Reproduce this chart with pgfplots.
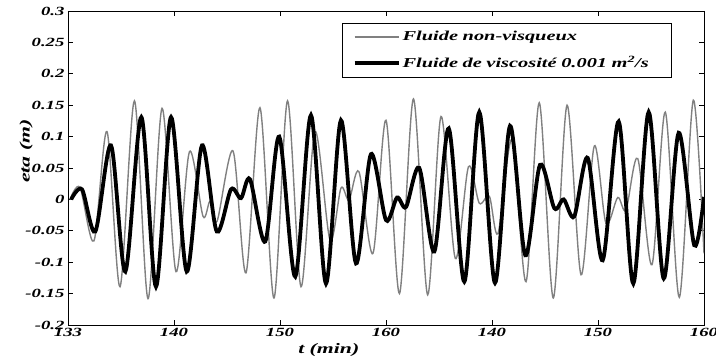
\documentclass[border=0pt]{standalone}
\usepackage{fontspec}
\setmainfont{Liberation Serif}[FakeStretch=1.5]
\usepackage{pgfplots}
\pgfplotsset{compat=1.18}
\definecolor{lgray}{RGB}{128,128,128}
\begin{document}
\begin{tikzpicture}
\begin{axis}[
  width=636pt, height=314pt, scale only axis,
  xmin=0, xmax=60, ymin=-0.2, ymax=0.3,
  xtick={0,10,20,30,40,50,60},
  xticklabels={133,140,150,160,140,150,160},
  ytick={-0.2,-0.15,-0.1,-0.05,0,0.05,0.1,0.15,0.2,0.25,0.3},
  yticklabels={-0.2,-0.15,-0.1,-0.05,0,0.05,0.1,0.15,0.2,0.25,0.3},
  tick align=inside, major tick length=5pt,
  tick style={black, line width=0.7pt},
  axis line style={line width=0.9pt},
  ticklabel style={font=\fontsize{12.5}{14}\selectfont\bfseries\itshape},
  xlabel={t (min)}, ylabel={eta (m)},
  every axis x label/.style={at={(axis description cs:0.41,0)}, yshift=-25pt, anchor=center,
    font=\fontsize{14.5}{16}\selectfont\bfseries\itshape},
  every axis y label/.style={at={(axis description cs:-0.066,0.554)}, rotate=90, anchor=center,
    font=\fontsize{14.5}{16}\selectfont\bfseries\itshape},
  legend style={at={(0.95,0.962)}, anchor=north east, draw=black, line width=1.2pt,
    inner xsep=10pt, inner ysep=6pt, row sep=10pt, column sep=0pt,
    nodes={text width=257pt, align=left, inner xsep=2pt},
    font=\fontsize{13.6}{15}\selectfont\bfseries\itshape},
  legend cell align=left,
  legend image code/.code={\draw[#1] (0pt,0pt) -- (44pt,0pt);},
]
\addplot[smooth, lgray, line width=1.4pt] coordinates {
(0.19,0) (1.13,0.019) (2.45,-0.066) (3.68,0.108) (4.91,-0.139) (6.27,0.157) (7.55,-0.158) (8.87,0.145) (10.19,-0.115) (11.46,0.076) (12.74,-0.027) (13.40,-0.003) (14.06,-0.035) (15.57,0.077) (16.79,-0.117) (18.11,0.146) (19.43,-0.157) (20.71,0.157) (21.98,-0.139) (23.30,0.108) (24.72,-0.065) (25.75,0.018) (26.51,-0.001) (27.45,0.044) (28.77,-0.086) (30.00,0.126) (31.27,-0.150) (32.59,0.160) (33.93,-0.152) (35.19,0.132) (36.54,-0.094) (37.78,0.052) (38.80,-0.006) (39.75,0.005) (40.57,-0.054) (41.89,0.095) (43.21,-0.131) (44.46,0.154) (45.78,-0.157) (47.08,0.150) (48.40,-0.120) (49.65,0.085) (50.75,-0.038) (51.86,0.003) (52.64,-0.017) (53.75,0.065) (55.09,-0.104) (56.35,0.139) (57.67,-0.156) (58.99,0.158) (60.00,-0.086)
};
\addlegendentry{Fluide non-visqueux}
\addplot[smooth, black, line width=3.8pt] coordinates {
(0.30,0) (1.32,0.016) (2.58,-0.051) (4.06,0.086) (5.41,-0.115) (6.92,0.131) (8.30,-0.139) (9.72,0.131) (11.20,-0.115) (12.64,0.086) (14.03,-0.051) (15.38,0.016) (16.32,0.002) (17.17,0.032) (18.61,-0.067) (19.93,0.100) (21.44,-0.123) (22.92,0.134) (24.34,-0.134) (25.75,0.126) (27.17,-0.102) (28.58,0.072) (30.00,-0.033) (31.04,0.003) (31.89,-0.012) (33.14,0.050) (34.56,-0.083) (35.92,0.113) (37.39,-0.131) (38.80,0.139) (40.28,-0.133) (41.70,0.117) (43.14,-0.089) (44.53,0.055) (45.88,-0.014) (46.76,0.000) (47.76,-0.027) (49.03,0.066) (50.44,-0.097) (51.95,0.124) (53.33,-0.134) (54.78,0.139) (56.20,-0.126) (57.61,0.106) (59.08,-0.073) (60.00,0.004)
};
\addlegendentry{Fluide de viscosité 0.001 m\textsuperscript{2}/s}
\end{axis}
\pgfresetboundingbox
\path[use as bounding box] ([shift={(-68pt,-35pt)}]current axis.south west) rectangle ([shift={(12pt,11pt)}]current axis.north east);
\end{tikzpicture}
\end{document}
